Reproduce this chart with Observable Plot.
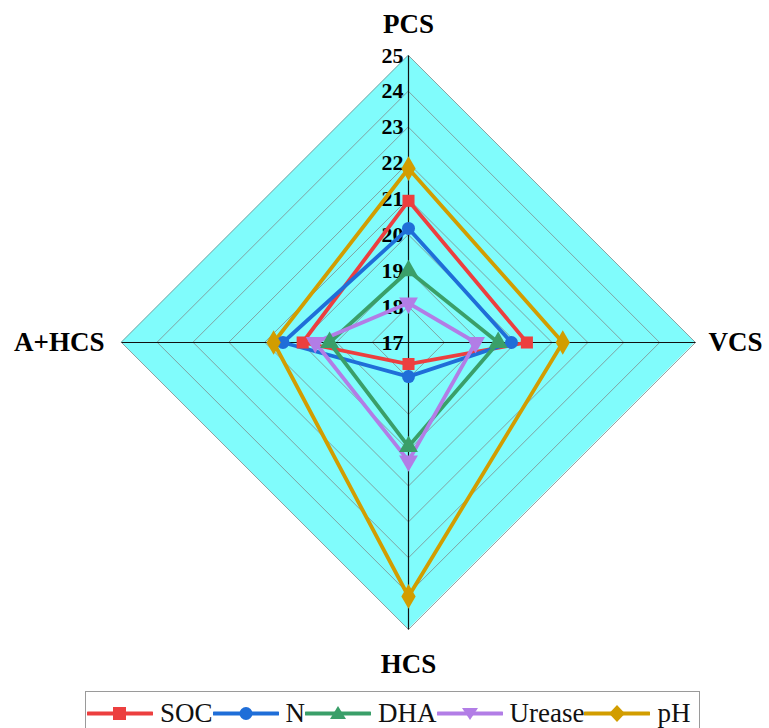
<!DOCTYPE html>
<html>
<head>
<meta charset="utf-8">
<script src="https://cdn.jsdelivr.net/npm/d3@7"></script>
<script src="https://cdn.jsdelivr.net/npm/@observablehq/plot@0.6"></script>
<style>
  html, body { margin: 0; padding: 0; background: #fff; overflow: hidden; }
  #wrap { position: relative; width: 769px; height: 728px; font-family: 'Liberation Serif', 'Times New Roman', Times, Tinos, 'DejaVu Serif', serif; }
  #chart svg text { font-family: 'Liberation Serif', 'Times New Roman', Times, Tinos, 'DejaVu Serif', serif; }
  #legend { position: absolute; left: 85px; top: 691px; width: 615px; height: 50px; border: 1.5px solid #9a9a9a; box-sizing: border-box; display: flex; align-items: flex-start; padding-top: 6px; padding-left: 1px; white-space: nowrap; }
  #legend .item { display: flex; align-items: center; }
  #legend .lab { font-size: 27px; line-height: 30px; color: #111; margin-left: 7px; }
</style>
</head>
<body>
<div id="wrap"><div id="chart"></div><div id="legend"></div></div>
<script>
// axes (clockwise from top) and their directions
const axes = ["PCS", "VCS", "HCS", "A+HCS"];
const dirs = [[0, 1], [1, 0], [0, -1], [-1, 0]];
// series values on each axis (PCS, VCS, HCS, A+HCS)
const SOC    = [20.95, 20.30, 17.60, 19.95];
const N      = [20.18, 19.87, 17.95, 20.50];
const DHA    = [19.00, 19.50, 19.90, 19.20];
const Urease = [18.10, 18.87, 20.30, 19.60];
const pH     = [21.85, 21.30, 24.08, 20.76];
const tickValues = [17, 18, 19, 20, 21, 22, 23, 24, 25];
const tickLabels = ["17", "18", "19", "20", "21", "22", "23", "24", "25"];

const series = [
  {name: "SOC", values: SOC, color: "#ec3f3f", symbol: "square", rotate: 0, r: 6.8},
  {name: "N", values: N, color: "#1f6ed8", symbol: "circle", rotate: 0, r: 6.5},
  {name: "DHA", values: DHA, color: "#3a9f69", symbol: "triangle", rotate: 0, r: 7},
  {name: "Urease", values: Urease, color: "#b27de6", symbol: "triangle", rotate: 180, r: 7},
  {name: "pH", values: pH, color: "#d29d00", symbol: "diamond", rotate: 0, r: 7.5}
];

const rBase = 17, rTop = 25, span = rTop - rBase;

const pts = series.flatMap(s => s.values.map((v, i) => ({
  name: s.name, axis: axes[i], x: dirs[i][0] * (v - rBase), y: dirs[i][1] * (v - rBase)
})));

const rings = d3.range(1, span + 1).flatMap(k => dirs.map(d => ({k, x: d[0] * k, y: d[1] * k})));
const outer = [{x: -span, lo: 0, hi: 0}, {x: 0, lo: -span, hi: span}, {x: span, lo: 0, hi: 0}];
const ticks = tickValues.map((v, i) => ({label: tickLabels[i], y: v - rBase}));
const axisLines = [
  {x1: 0, y1: -span, x2: 0, y2: span},
  {x1: -span, y1: 0, x2: span, y2: 0}
];
const axisLabels = axes.map((a, i) => ({a, x: dirs[i][0] * span, y: dirs[i][1] * span, i}));

const font = "'Liberation Serif', 'Times New Roman', Times, Tinos, 'DejaVu Serif', serif";

const marks = [
  Plot.area(outer, {x1: "x", y1: "lo", y2: "hi", fill: "#80fcfc"}),
  Plot.line(rings, {x: "x", y: "y", z: "k", curve: "linear-closed", stroke: "#7f8c8c", strokeWidth: 0.8}),
  Plot.link(axisLines, {x1: "x1", y1: "y1", x2: "x2", y2: "y2", stroke: "#111", strokeWidth: 1.2}),
  Plot.text(ticks, {x: 0, y: "y", text: "label", textAnchor: "end", dx: -5, fontSize: 22, fontWeight: "bold", fontFamily: font, fill: "#000"})
];
for (const s of series) {
  marks.push(Plot.line(pts.filter(p => p.name === s.name), {x: "x", y: "y", curve: "linear-closed", stroke: s.color, strokeWidth: 3.8, strokeLinejoin: "miter"}));
}
for (const s of series) {
  marks.push(Plot.dot(pts.filter(p => p.name === s.name), {x: "x", y: "y", symbol: () => s.symbol, r: s.r, fill: s.color, stroke: s.color, strokeWidth: 0, rotate: s.rotate}));
}
const lblOpt = [
  {dx: 0, dy: -31, textAnchor: "middle"},
  {dx: 13, dy: 0, textAnchor: "start"},
  {dx: 0, dy: 35, textAnchor: "middle"},
  {dx: -17, dy: 0, textAnchor: "end"}
];
axisLabels.forEach((l, i) => {
  marks.push(Plot.text([l], {x: "x", y: "y", text: "a", fontSize: 27, fontWeight: "bold", fontFamily: font, fill: "#000", ...lblOpt[i]}));
});

const chart = Plot.plot({
  width: 769,
  height: 690,
  marginLeft: 121,
  marginRight: 74,
  marginTop: 55,
  marginBottom: 61,
  x: {domain: [-span, span], axis: null},
  y: {domain: [-span, span], axis: null},
  style: {background: "white", overflow: "visible", fontFamily: font},
  marks
});
document.getElementById("chart").appendChild(chart);

// legend
const legend = document.getElementById("legend");
const sym = {
  square: (c) => `<rect x="26" y="6" width="13" height="13" fill="${c}"/>`,
  circle: (c) => `<circle cx="33" cy="12.5" r="6.5" fill="${c}"/>`,
  triangle: (c, rot) => rot ? `<path d="M25,7 L41,7 L33,19 Z" fill="${c}"/>` : `<path d="M33,5 L41,18 L25,18 Z" fill="${c}"/>`,
  diamond: (c) => `<path d="M33,4 L41,12.5 L33,21 L25,12.5 Z" fill="${c}"/>`
};
series.forEach((s, i) => {
  const it = document.createElement("div");
  it.className = "item";
  it.innerHTML = `<svg width="66" height="25" style="display:block"><line x1="1" y1="12.5" x2="65" y2="12.5" stroke="${s.color}" stroke-width="4" stroke-linecap="round"/>${sym[s.symbol](s.color, s.rotate)}</svg><span class="lab">${s.name}</span>`;
  legend.appendChild(it);
});
</script>
</body>
</html>
